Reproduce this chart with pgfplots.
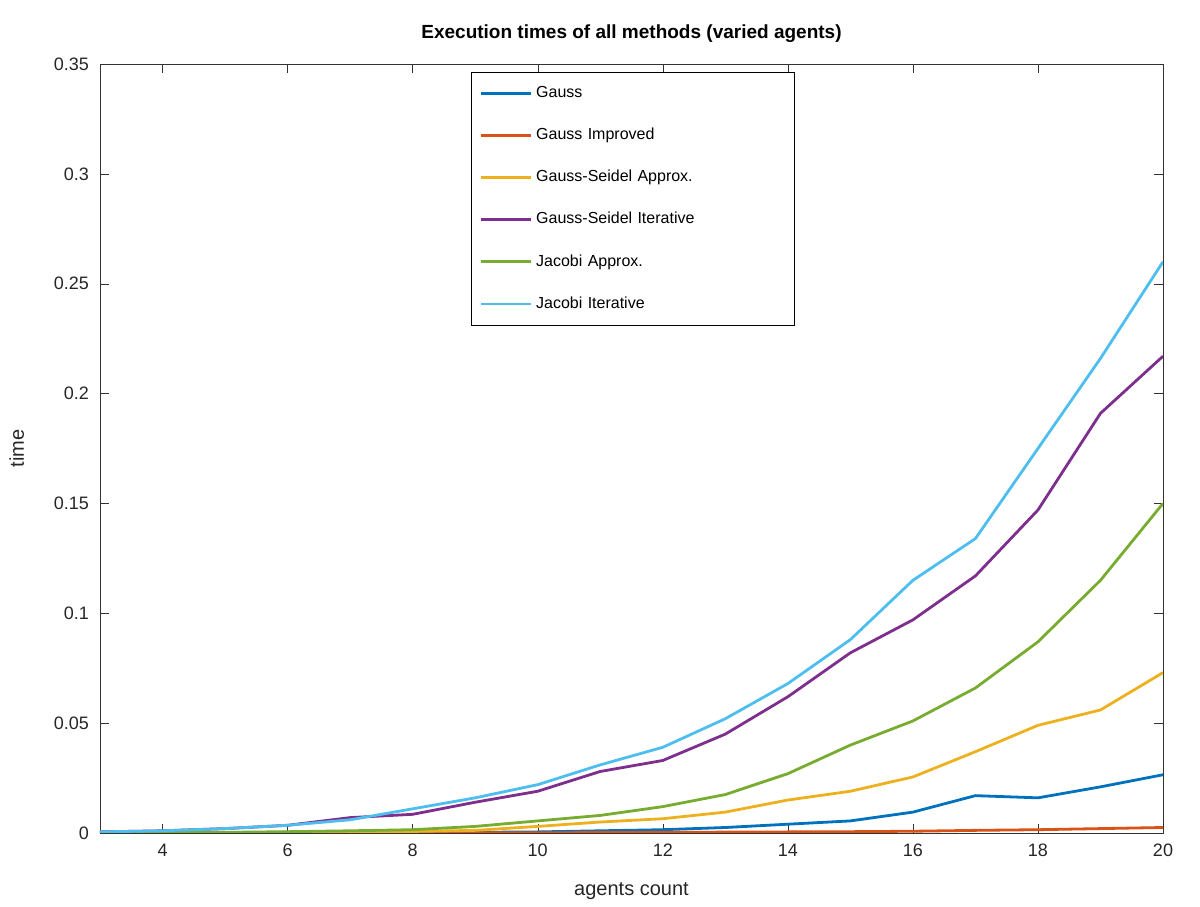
\documentclass[border=0pt]{standalone}
\usepackage{pgfplots}
\pgfplotsset{compat=1.18}
\usepackage{fontspec}
\setmainfont{Liberation Sans}
\definecolor{c1}{HTML}{0072BD}
\definecolor{c2}{HTML}{D95319}
\definecolor{c3}{HTML}{EDB120}
\definecolor{c4}{HTML}{7E2F8E}
\definecolor{c5}{HTML}{77AC30}
\definecolor{c6}{HTML}{4DBEEE}
\begin{document}
\begin{tikzpicture}
\begin{axis}[
  width=531.5pt, height=384.5pt, scale only axis,
  xmin=3, xmax=20, ymin=0, ymax=0.35,
  xtick={4,6,...,20}, ytick={0,0.05,...,0.35},
  yticklabels={0,0.05,0.1,0.15,0.2,0.25,0.3,0.35},
  tick align=inside, tick style={color=black!80},
  /pgf/number format/assume math mode=true,
  tick label style={font=\fontsize{9}{10}\selectfont, color=black!85},
  xticklabel style={yshift=-2pt}, yticklabel style={xshift=-2pt},
  xlabel={agents count}, ylabel={time},
  label style={font=\fontsize{10}{11}\selectfont, color=black!85},
  xlabel style={yshift=-6pt}, ylabel style={yshift=8pt},
  title={\textbf{Execution times of all methods (varied agents)}},
  title style={font=\fontsize{9.5}{11}\selectfont, yshift=1pt},
  legend style={at={(0.349,0.99)}, anchor=north west, font=\fontsize{8}{10}\selectfont,
    draw=black, row sep=9.8pt, inner xsep=4pt, inner ysep=5pt, text width=123pt,
    cells={anchor=west}},
  legend image post style={line width=1.4pt},
  legend image code/.code={\draw[#1] (0cm,0cm) -- (25pt,0cm);},
  legend cell align=left,
  every axis plot/.append style={line width=1.4pt},
  axis line style={black!80},
]
\addplot[c1] coordinates {(3,0)(4,0)(5,0)(6,0)(7,0.0001)(8,0.0002)(9,0.0003)(10,0.0005)(11,0.001)(12,0.0015)(13,0.0025)(14,0.004)(15,0.0055)(16,0.0095)(17,0.017)(18,0.016)(19,0.021)(20,0.0265)};
\addlegendentry{Gauss}
\addplot[c2] coordinates {(3,0)(4,0)(5,0)(6,0)(7,0)(8,0)(9,0.0001)(10,0.0001)(11,0.0002)(12,0.0003)(13,0.0004)(14,0.0005)(15,0.0006)(16,0.0008)(17,0.0012)(18,0.0015)(19,0.002)(20,0.0025)};
\addlegendentry{Gauss Improved}
\addplot[c3] coordinates {(3,0)(4,0)(5,0.0001)(6,0.0002)(7,0.0004)(8,0.0007)(9,0.0012)(10,0.003)(11,0.005)(12,0.0065)(13,0.0095)(14,0.015)(15,0.019)(16,0.0255)(17,0.037)(18,0.049)(19,0.056)(20,0.073)};
\addlegendentry{Gauss-Seidel Approx.}
\addplot[c4] coordinates {(3,0.0005)(4,0.001)(5,0.002)(6,0.0035)(7,0.007)(8,0.0085)(9,0.014)(10,0.019)(11,0.028)(12,0.033)(13,0.045)(14,0.062)(15,0.082)(16,0.097)(17,0.117)(18,0.147)(19,0.191)(20,0.217)};
\addlegendentry{Gauss-Seidel Iterative}
\addplot[c5] coordinates {(3,0)(4,0.0001)(5,0.0003)(6,0.0006)(7,0.001)(8,0.0015)(9,0.003)(10,0.0055)(11,0.008)(12,0.012)(13,0.0175)(14,0.027)(15,0.040)(16,0.051)(17,0.066)(18,0.087)(19,0.115)(20,0.150)};
\addlegendentry{Jacobi Approx.}
\addplot[c6] coordinates {(3,0.0005)(4,0.001)(5,0.002)(6,0.0035)(7,0.006)(8,0.011)(9,0.016)(10,0.022)(11,0.031)(12,0.039)(13,0.052)(14,0.068)(15,0.088)(16,0.115)(17,0.134)(18,0.175)(19,0.216)(20,0.260)};
\addlegendentry{Jacobi Iterative}
\end{axis}
\useasboundingbox (current axis.south west) ++(-50pt,-33.5pt) rectangle ([shift={(18.5pt,32pt)}]current axis.north east);
\end{tikzpicture}
\end{document}
